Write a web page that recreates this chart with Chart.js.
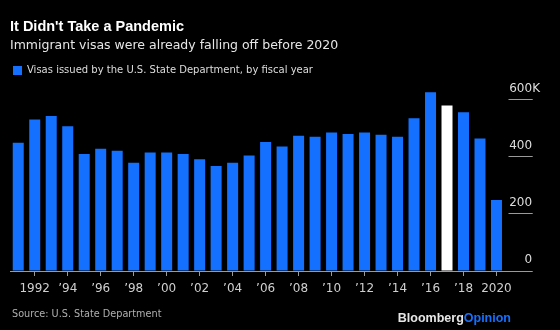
<!DOCTYPE html>
<html>
<head>
<meta charset="utf-8">
<script src="https://cdn.jsdelivr.net/npm/chart.js@4/dist/chart.umd.min.js"></script>
<style>
  html, body { margin: 0; padding: 0; background: #000; }
  #wrap { width: 560px; height: 330px; }
</style>
</head>
<body>
<div id="wrap"><canvas id="chart" width="560" height="330"></canvas></div>
<script>
// Immigrant visas issued by fiscal year (thousands)
const fiscalYears = ['1991','1992','1993','1994','1995','1996','1997','1998','1999','2000',
                     '2001','2002','2003','2004','2005','2006','2007','2008','2009','2010',
                     '2011','2012','2013','2014','2015','2016','2017','2018','2019','2020'];
const visasIssued = [449, 530, 542, 506, 409, 428, 421, 379, 415, 415,
                     409, 391, 367, 379, 404, 451, 436, 473, 470, 485,
                     479, 485, 477, 470, 534, 625, 579, 555, 464, 248];
const highlightYear = '2017';

const xTickLabels = ['', '1992', '', '\u201994', '', '\u201996', '', '\u201998', '', '\u201900',
                     '', '\u201902', '', '\u201904', '', '\u201906', '', '\u201908', '', '\u201910',
                     '', '\u201912', '', '\u201914', '', '\u201916', '', '\u201918', '', '2020'];
const yTickValues = [0, 200, 400, 600];
const yTickLabels = ['0', '200', '400', '600K'];

const titleText = 'It Didn\'t Take a Pandemic';
const subtitleText = 'Immigrant visas were already falling off before 2020';
const seriesName = 'Visas issued by the U.S. State Department, by fiscal year';
const sourceNote = 'Source: U.S. State Department';

const BLUE = '#1470ff';
const GRID = '#9a9a9a';

const background = {
  id: 'background',
  beforeDraw(chart) {
    const c = chart.ctx;
    c.save();
    c.fillStyle = '#000';
    c.fillRect(0, 0, chart.width, chart.height);
    c.restore();
  }
};

const footer = {
  id: 'footer',
  afterDraw(chart) {
    const c = chart.ctx;
    c.save();
    c.textBaseline = 'alphabetic';
    c.font = '9.7px "DejaVu Sans"';
    c.fillStyle = '#b0b0b0';
    c.textAlign = 'left';
    c.fillText(sourceNote, 12, 316.5);

    c.font = 'bold 12.5px "Liberation Sans"';
    c.textAlign = 'right';
    const right = 511;
    c.fillStyle = BLUE;
    c.fillText('Opinion', right, 322);
    const w = c.measureText('Opinion').width;
    c.fillStyle = '#e6e6e6';
    c.fillText('Bloomberg', right - w, 322);
    c.restore();
  }
};

new Chart(document.getElementById('chart'), {
  type: 'bar',
  data: {
    labels: fiscalYears,
    datasets: [{
      label: seriesName,
      data: visasIssued,
      backgroundColor: ctx => fiscalYears[ctx.dataIndex] === highlightYear ? '#ffffff' : BLUE,
      borderWidth: 0,
      categoryPercentage: 1,
      barPercentage: 0.667
    }]
  },
  options: {
    responsive: false,
    animation: false,
    events: [],
    layout: { padding: { left: 10, right: 18, top: 0, bottom: 27.6 } },
    plugins: {
      title: {
        display: true,
        text: titleText,
        align: 'start',
        color: '#ffffff',
        font: { family: 'Liberation Sans', size: 14.5, weight: 'bold', lineHeight: 1.2 },
        padding: { top: 18.3, bottom: 0 }
      },
      subtitle: {
        display: true,
        text: subtitleText,
        align: 'start',
        color: '#e6e6e6',
        font: { family: 'DejaVu Sans', size: 12.5, lineHeight: 1.2 },
        padding: { top: 2.8, bottom: 9 }
      },
      legend: {
        display: true,
        position: 'top',
        align: 'start',
        labels: {
          boxWidth: 9,
          boxHeight: 9,
          padding: 3,
          color: '#dddddd',
          font: { family: 'DejaVu Sans', size: 10 }
        }
      },
      tooltip: { enabled: false }
    },
    scales: {
      x: {
        offset: true,
        grid: {
          offset: false,
          drawOnChartArea: false,
          drawTicks: true,
          tickLength: 5,
          color: ctx => xTickLabels[ctx.index] ? GRID : 'rgba(0,0,0,0)'
        },
        border: { display: true, color: GRID, width: 1 },
        ticks: {
          autoSkip: false,
          maxRotation: 0,
          minRotation: 0,
          padding: 6,
          color: '#cfcfcf',
          font: { family: 'DejaVu Sans', size: 12 },
          callback: (value, index) => xTickLabels[index]
        }
      },
      y: {
        position: 'right',
        min: 0,
        max: 649,
        afterBuildTicks: axis => { axis.ticks = yTickValues.map(v => ({ value: v })); },
        // labels sit over the tick marks (negative padding); widen the box so they are not clipped
        afterFit: axis => { axis.width -= axis.options.ticks.padding; axis.width += 2; },
        grid: {
          drawOnChartArea: false,
          drawTicks: true,
          tickLength: 28,
          color: GRID,
          tickBorderDash: ctx => (ctx.tick && ctx.tick.value === 0) ? [] : [0, 3.5, 100]
        },
        border: { display: false },
        ticks: {
          crossAlign: 'near',
          padding: -23.5,
          labelOffset: -11,
          color: '#dddddd',
          font: { family: 'DejaVu Sans', size: 12 },
          callback: value => {
            const i = yTickValues.indexOf(value);
            return i < 0 ? '' : yTickLabels[i].padStart(3, '\u2007');
          }
        }
      }
    }
  },
  plugins: [background, footer]
});
</script>
</body>
</html>
